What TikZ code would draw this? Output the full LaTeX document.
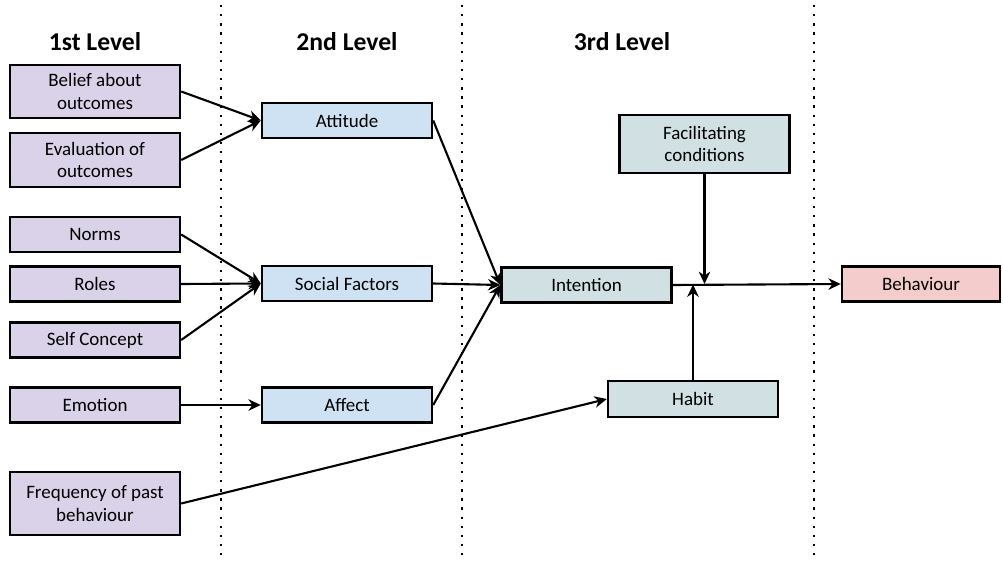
\documentclass[tikz,border=0pt]{standalone}
\usepackage{fontspec}
\setmainfont{Carlito}
\usepackage{xcolor}
\usetikzlibrary{arrows.meta}
\definecolor{lvlone}{HTML}{D9D2E9}
\definecolor{lvltwo}{HTML}{CFE2F3}
\definecolor{lvlthree}{HTML}{D0E0E3}
\definecolor{lvlout}{HTML}{F4CCCC}
\tikzset{box/.style={rectangle,draw,line width=1.4pt,minimum width=3.4cm,minimum height=0.7cm,inner sep=0.06cm,align=center,font=\fontsize{10.8}{12.6}\selectfont},
  head/.style={font=\fontsize{14.6}{17}\selectfont\bfseries},
  sep/.style={line width=1.3pt,dash pattern=on 1.3pt off 3.9pt},
  arr/.style={line width=1.2pt,-{Stealth[length=7pt,width=6.5pt,inset=2.2pt]}}}

\begin{document}
\begin{tikzpicture}[x=0.02cm,y=-0.02cm]
    \useasboundingbox (0,0) rectangle (1003,567);

    % separators
    \foreach \xs in {221,462,814}
        \draw [sep] (\xs,5) -- (\xs,562);

    \node[head] (h1) at (95,42) {1st Level};
    \node[head] (h2) at (347,42) {2nd Level};
    \node[head] (h3) at (622,42) {3rd Level};

    \node[box,fill=lvlone,minimum height=1.06cm] (bel) at (95,91.5) {Belief about\\outcomes};
    \node[box,fill=lvlone,minimum height=1.08cm] (eva) at (95,160) {Evaluation of\\outcomes};
    \node[box,fill=lvlone] (nor) at (95,234.5) {Norms};
    \node[box,fill=lvlone] (rol) at (95,284) {Roles};
    \node[box,fill=lvlone] (sel) at (95,340) {Self Concept};
    \node[box,fill=lvlone] (emo) at (95,405) {Emotion};
    \node[box,fill=lvlone,minimum height=1.26cm] (fre) at (95,503.5) {Frequency of past\\behaviour};

    \node[box,fill=lvltwo] (att) at (347,120.5) {Attitude};
    \node[box,fill=lvltwo] (soc) at (347,283.5) {Social Factors};
    \node[box,fill=lvltwo] (aff) at (347,405) {Affect};

    \node[box,fill=lvlthree] (int) at (586.5,285) {Intention};
    \node[box,fill=lvlthree,minimum height=1.16cm] (fac) at (704.5,144) {Facilitating\\conditions};
    \node[box,fill=lvlthree,minimum height=0.72cm] (hab) at (693,399) {Habit};
    \node[box,fill=lvlout,minimum width=3.16cm] (beh) at (921,284) {Behaviour};

    \coordinate (jf) at (704.5,284);
    \coordinate (jh) at (693,284.5);

    \draw [arr] (bel.east) to (att.west);
    \draw [arr] (eva.east) to (att.west);
    \draw [arr] (nor.east) to (soc.west);
    \draw [arr] (rol.east) to (soc.west);
    \draw [arr] (sel.east) to (soc.west);
    \draw [arr] (emo.east) to (aff.west);
    \draw [arr] (att.east) to (int.west);
    \draw [arr] (soc.east) to (int.west);
    \draw [arr] (aff.east) to (int.west);
    \draw [arr] (fre.east) to (hab.west);
    \draw [arr] (int.east) to (beh.west);
    \draw [arr] (fac.south) to (jf);
    \draw [arr] (hab.north) to (jh);
\end{tikzpicture}
\end{document}
